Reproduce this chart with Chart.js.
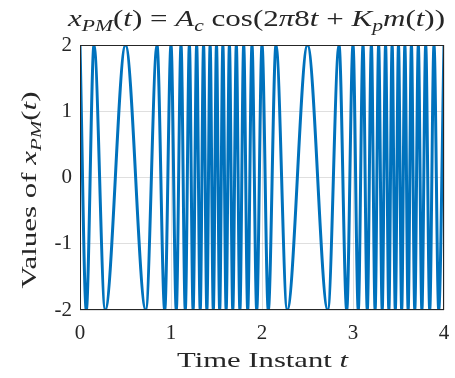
<!DOCTYPE html>
<html>
<head>
<meta charset="utf-8">
<script src="https://cdn.jsdelivr.net/npm/chart.js@4"></script>
<style>
  body { margin: 0; background: #ffffff; }
  #wrap { width: 455px; height: 378px; }
</style>
</head>
<body>
<div id="wrap"><canvas id="chart" width="455" height="378"></canvas></div>
<script>
// time instants of the peaks (+2) and troughs (-2)
const instants = [
	0, 0.069, 0.154, 0.277, 0.5, 0.723, 0.846, 0.931,
	1.0, 1.058, 1.110, 1.157, 1.202, 1.243, 1.282, 1.321,
	1.358, 1.394, 1.430, 1.465, 1.5, 1.535, 1.570, 1.606,
	1.642, 1.679, 1.718, 1.757, 1.799, 1.843, 1.890, 1.942,
	2.0, 2.069, 2.154, 2.277, 2.5, 2.723, 2.846, 2.931,
	3.0, 3.058, 3.110, 3.157, 3.202, 3.243, 3.282, 3.321,
	3.358, 3.394, 3.430, 3.465, 3.5, 3.535, 3.570, 3.606,
	3.642, 3.679, 3.718, 3.757, 3.799, 3.843, 3.890, 3.942,
	4.0
];
const amplitudes = [
	2, -2, 2, -2, 2, -2, 2, -2,
	2, -2, 2, -2, 2, -2, 2, -2,
	2, -2, 2, -2, 2, -2, 2, -2,
	2, -2, 2, -2, 2, -2, 2, -2,
	2, -2, 2, -2, 2, -2, 2, -2,
	2, -2, 2, -2, 2, -2, 2, -2,
	2, -2, 2, -2, 2, -2, 2, -2,
	2, -2, 2, -2, 2, -2, 2, -2,
	2
];
const xTicks = [0, 1, 2, 3, 4];
const yTicks = [-2, -1, 0, 1, 2];

// label pieces: r = roman, i = italic, s = italic subscript
const titleParts = [['x','i'],['PM','s'],['(','r'],['t','i'],[') = ','r'],['A','i'],['c','s'],
	[' cos(2','r'],['π','i'],['8','r'],['t','i'],[' + ','r'],['K','i'],['p','s'],['m','i'],['(','r'],['t','i'],['))','r']];
const xLabelParts = [['Time Instant ','r'],['t','i']];
const yLabelParts = [['Values of ','r'],['x','i'],['PM','s'],['(','r'],['t','i'],[')','r']];

const FONT = '"Liberation Serif", "DejaVu Serif", serif';
const INK = '#262626';

// draws the pieces centred on cx, stretched to the given width
function drawParts(ctx, parts, size, cx, baseline, width)
{
	const fontFor = (k) => (k === 'r' ? '' : 'italic ') + (k === 's' ? Math.round(size * 0.7) : size) + 'px ' + FONT;
	let total = 0;
	const widths = parts.map(([t, k]) => {
		ctx.font = fontFor(k);
		const w = ctx.measureText(t).width;
		total += w;
		return w;
	});
	ctx.save();
	ctx.translate(cx - width / 2, baseline);
	ctx.scale(width / total, 1);
	ctx.fillStyle = INK;
	ctx.textBaseline = 'alphabetic';
	ctx.textAlign = 'left';
	let x = 0;
	parts.forEach(([t, k], i) => {
		ctx.font = fontFor(k);
		ctx.fillText(t, x, k === 's' ? size * 0.22 : 0);
		x += widths[i];
	});
	ctx.restore();
}

const mathLabels = {
	id: 'mathLabels',
	afterDraw(chart)
	{
		const ctx = chart.ctx;
		const a = chart.chartArea;
		ctx.save();
		ctx.strokeStyle = '#262626';
		ctx.lineWidth = 1;
		ctx.strokeRect(a.left + 0.5, a.top + 0.5, a.right - a.left - 1, a.bottom - a.top - 1);
		drawParts(ctx, titleParts, 23, 256.5, 26, 377);
		drawParts(ctx, xLabelParts, 22, 262.5, 367, 171);
		ctx.translate(36, 190);
		ctx.rotate(-Math.PI / 2);
		drawParts(ctx, yLabelParts, 22, 0, 0, 197);
		ctx.restore();
	}
};

const points = instants.map((t, i) => ({ x: t, y: amplitudes[i] }));

new Chart(document.getElementById('chart'), {
	type: 'line',
	data: {
		datasets: [{
			data: points,
			borderColor: '#0072bd',
			borderWidth: 3,
			pointRadius: 0,
			fill: false,
			cubicInterpolationMode: 'monotone'
		}]
	},
	options: {
		responsive: false,
		animation: false,
		layout: { padding: { top: 45, right: 11, left: 0, bottom: 0 } },
		plugins: {
			legend: { display: false },
			tooltip: { enabled: false }
		},
		scales: {
			x: {
				type: 'linear',
				min: 0,
				max: 4,
				afterBuildTicks: (s) => { s.ticks = xTicks.map(v => ({ value: v })); },
				afterFit: (s) => { s.height = 68; s.paddingLeft = 0; s.paddingRight = 0; },
				grid: { color: 'rgba(38,38,38,0.15)', drawTicks: false },
				border: { display: false },
				ticks: { padding: 11, color: INK, font: { family: FONT, size: 21 } }
			},
			y: {
				min: -2,
				max: 2,
				afterBuildTicks: (s) => { s.ticks = yTicks.map(v => ({ value: v })); },
				afterFit: (s) => { s.width = 80; s.paddingTop = 0; s.paddingBottom = 0; },
				grid: { color: 'rgba(38,38,38,0.15)', drawTicks: false },
				border: { display: false },
				ticks: { padding: 8, color: INK, font: { family: FONT, size: 21 } }
			}
		}
	},
	plugins: [mathLabels]
});
</script>
</body>
</html>
